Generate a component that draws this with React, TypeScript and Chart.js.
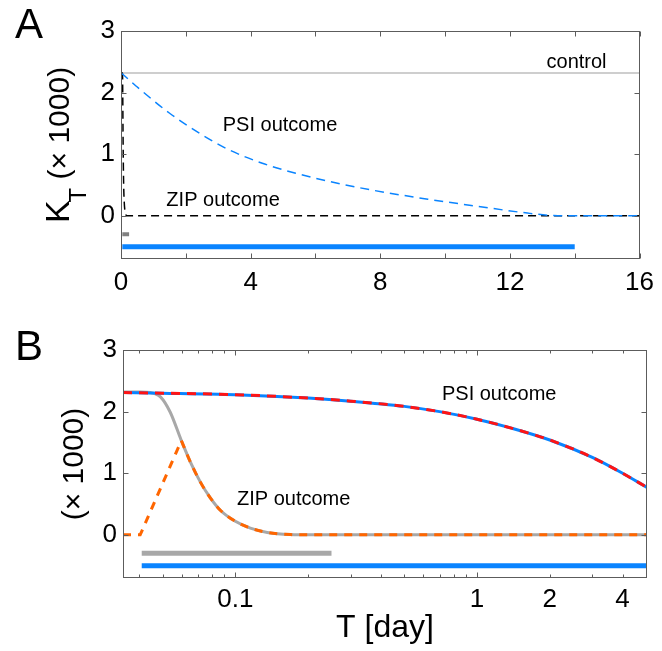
import React, { useEffect, useRef } from 'react';
import { Chart, registerables } from 'chart.js';

Chart.register(...registerables);

const FONT = '"Liberation Sans", Arial, Helvetica, sans-serif';

// ---------- shared ----------
const yMin = -0.7;
const yMax = 3;
const yTicks = [0, 1, 2, 3];
const controlLevel = 2.32;
const grayBarLevel = -0.3;
const blueBarLevel = -0.5;

// ---------- Panel A (linear time) ----------
const aXMin = 0;
const aXMax = 16;
const aXTicks = [0, 2, 4, 6, 8, 10, 12, 14, 16];
const aXLabels = [0, 4, 8, 12, 16];
const aControlT = [0, 16];
const aPsiT = [0, 0.07, 0.48, 1.5, 2.42, 3.34, 4.36, 5.39, 6.51, 7.73, 9.47, 11.0, 12.54, 13.35, 14, 16];
const aPsiK = [2.32, 2.29, 2.1, 1.665, 1.341, 1.07, 0.854, 0.692, 0.55, 0.42, 0.27, 0.155, 0.045, 0.005, 0, 0];
const aZipT = [0, 0.0404, 0.0445, 0.049, 0.0538, 0.0598, 0.0652, 0.0716, 0.0788, 0.0867, 0.1, 0.1154, 0.1356, 0.1689, 0.2043, 16];
const aZipK = [2.32, 2.32, 2.31, 2.24, 1.99, 1.53, 1.18, 0.86, 0.6, 0.4, 0.22, 0.11, 0.04, 0.005, 0, 0];
const aGrayBarT = [0.041, 0.25];
const aBlueBarT = [0.041, 14];

// ---------- Panel B (log time) ----------
const bXMin = 0.0343;
const bXMax = 5.05;
const bXMajor = [0.1, 1];
const bXMinor = [0.04, 0.05, 0.06, 0.07, 0.08, 0.09, 0.2, 0.3, 0.4, 0.5, 0.6, 0.7, 0.8, 0.9, 2, 3, 4];
const bXLabels = [0.1, 1, 2, 4];
const bPsiT = [0.0343, 0.05, 0.1, 0.2, 0.3, 0.5, 0.7, 1, 1.4, 2, 3, 4, 5.05];
const bPsiK = [2.31, 2.3, 2.275, 2.22, 2.17, 2.085, 2.0, 1.877, 1.728, 1.54, 1.257, 1.0, 0.77];
const bZipT = [0.0343, 0.0404, 0.0445, 0.049, 0.0538, 0.0598, 0.0652, 0.0716, 0.0788, 0.0867, 0.1, 0.1154, 0.1356, 0.1689, 0.2043, 5.05];
const bZipK = [2.32, 2.32, 2.31, 2.24, 1.99, 1.53, 1.18, 0.86, 0.6, 0.4, 0.22, 0.11, 0.04, 0.005, 0, 0];
const bPeakIndex = 5;
const bRiseT = [0.0343, 0.0404, 0.0598];
const bRiseK = [0, 0, 1.53];
const bGrayBarT = [0.041, 0.25];
const bBlueBarT = [0.041, 5.05];

const BLUE = 'rgb(10,132,255)';
const RED = 'rgb(255,20,20)';
const ORANGE = 'rgb(255,102,0)';
const GRAY = 'rgb(168,168,168)';

const pts = (xs: number[], ys: number[]) => xs.map((x, i) => ({ x, y: ys[i] }));
const flat = (xs: number[], y: number) => xs.map((x) => ({ x, y }));

type Txt = { text: string; x: number; y: number };
type FrameCfg = {
  xMajor: number[];
  xMinor: number[];
  yTicks: number[];
  notes: Txt[];
  panel: { text: string; x: number; y: number };
  yTitle: 'K' | 'plain';
  yTitleX: number;
  xTitle?: { text: string; y: number };
};

function makeFramePlugin(cfg: FrameCfg) {
  return {
    id: 'frame',
    afterDatasetsDraw(chart: any) {
      const { ctx, chartArea: a } = chart;
      const xs = chart.scales.x;
      const ys = chart.scales.y;
      ctx.save();
      ctx.strokeStyle = '#5c5c5c';
      ctx.lineWidth = 1;
      const L = Math.round(a.left) + 0.5;
      const R = Math.round(a.right) - 0.5;
      const T = Math.round(a.top) + 0.5;
      const B = Math.round(a.bottom) - 0.5;
      ctx.strokeRect(L, T, R - L, B - T);
      ctx.beginPath();
      const xt = (v: number, len: number) => {
        const p = Math.round(xs.getPixelForValue(v)) + 0.5;
        ctx.moveTo(p, B);
        ctx.lineTo(p, B - len);
        ctx.moveTo(p, T);
        ctx.lineTo(p, T + len);
      };
      cfg.xMajor.forEach((v) => xt(v, 5));
      cfg.xMinor.forEach((v) => xt(v, 3));
      cfg.yTicks.forEach((v) => {
        const p = Math.round(ys.getPixelForValue(v)) + 0.5;
        ctx.moveTo(L, p);
        ctx.lineTo(L + 5, p);
        ctx.moveTo(R, p);
        ctx.lineTo(R - 5, p);
      });
      ctx.stroke();
      ctx.restore();
    },
    afterDraw(chart: any) {
      const { ctx, chartArea: a } = chart;
      const xs = chart.scales.x;
      const ys = chart.scales.y;
      ctx.save();
      ctx.fillStyle = '#000';
      ctx.textAlign = 'left';
      ctx.textBaseline = 'alphabetic';
      ctx.font = `20px ${FONT}`;
      cfg.notes.forEach((n) => {
        ctx.fillText(n.text, xs.getPixelForValue(n.x), ys.getPixelForValue(n.y));
      });
      ctx.font = `42px ${FONT}`;
      ctx.fillText(cfg.panel.text, cfg.panel.x, cfg.panel.y);

      // y title
      ctx.save();
      ctx.translate(cfg.yTitleX, (a.top + a.bottom) / 2);
      ctx.rotate(-Math.PI / 2);
      const rest = cfg.yTitle === 'K' ? ' (× 1000)' : '(× 1000)';
      const fK = `34px ${FONT}`;
      const fT = `24px ${FONT}`;
      const fR = `30px ${FONT}`;
      let wK = 0;
      let wT = 0;
      if (cfg.yTitle === 'K') {
        ctx.font = fK;
        wK = ctx.measureText('K').width - 2;
        ctx.font = fT;
        wT = ctx.measureText('T').width;
      }
      ctx.font = fR;
      const wR = ctx.measureText(rest).width;
      const x0 = -(wK + wT + wR) / 2;
      if (cfg.yTitle === 'K') {
        ctx.font = fK;
        ctx.fillText('K', x0, 0);
        ctx.font = fT;
        ctx.fillText('T', x0 + wK, 17);
      }
      ctx.font = fR;
      ctx.fillText(rest, x0 + wK + wT, 0);
      ctx.restore();

      if (cfg.xTitle) {
        ctx.font = `32px ${FONT}`;
        ctx.textAlign = 'center';
        ctx.fillText(cfg.xTitle.text, (a.left + a.right) / 2, cfg.xTitle.y);
      }
      ctx.restore();
    },
  };
}

const lineDs = (data: any[], color: string, width: number, dash: number[], order: number, smooth = true) => ({
  data,
  borderColor: color,
  borderWidth: width,
  borderDash: dash,
  borderCapStyle: 'butt',
  pointRadius: 0,
  fill: false,
  tension: 0,
  cubicInterpolationMode: smooth ? 'monotone' : 'default',
  order,
});

const tickFont = { family: FONT, size: 26 };

export default function App() {
  const refA = useRef<HTMLCanvasElement>(null);
  const refB = useRef<HTMLCanvasElement>(null);

  useEffect(() => {
    const chartA = new Chart(refA.current as HTMLCanvasElement, {
      type: 'line',
      data: {
        datasets: [
          lineDs(pts(aPsiT, aPsiK), BLUE, 1.5, [9, 6], 1),
          lineDs(pts(aZipT, aZipK), '#000', 1.5, [8, 5], 2),
          lineDs(flat(aControlT, controlLevel), 'rgb(190,190,190)', 1.5, [], 3, false),
          lineDs(flat(aGrayBarT, grayBarLevel), 'rgb(128,128,128)', 4, [], 4, false),
          lineDs(flat(aBlueBarT, blueBarLevel), BLUE, 5, [], 5, false),
        ] as any,
      },
      options: {
        animation: false,
        responsive: false,
        events: [],
        layout: { padding: { top: 31, right: 19, left: 0, bottom: 0 } },
        plugins: { legend: { display: false }, tooltip: { enabled: false } },
        scales: {
          x: {
            type: 'linear',
            min: aXMin,
            max: aXMax,
            grid: { display: false, drawTicks: false },
            border: { display: false },
            afterBuildTicks: (s: any) => {
              s.ticks = aXTicks.map((v) => ({ value: v }));
            },
            afterFit: (s: any) => {
              s.height = 41;
            },
            ticks: {
              autoSkip: false,
              maxRotation: 0,
              padding: 8,
              color: '#000',
              font: tickFont,
              callback: (v: any) => (aXLabels.includes(Number(v)) ? String(v) : ''),
            },
          },
          y: {
            type: 'linear',
            min: yMin,
            max: yMax,
            grid: { display: false, drawTicks: false },
            border: { display: false },
            afterBuildTicks: (s: any) => {
              s.ticks = yTicks.map((v) => ({ value: v }));
            },
            afterFit: (s: any) => {
              s.width = 121;
            },
            ticks: {
              autoSkip: false,
              padding: 6,
              color: '#000',
              font: tickFont,
              callback: (v: any) => String(v),
            },
          },
        },
      } as any,
      plugins: [
        makeFramePlugin({
          xMajor: aXTicks,
          xMinor: [],
          yTicks,
          notes: [
            { text: 'control', x: 13.13, y: 2.395 },
            { text: 'PSI outcome', x: 3.14, y: 1.383 },
            { text: 'ZIP outcome', x: 1.4, y: 0.167 },
          ],
          panel: { text: 'A', x: 15, y: 38 },
          yTitle: 'K',
          yTitleX: 69,
        }) as any,
      ],
    });

    const peakTail = pts(bZipT, bZipK).slice(bPeakIndex);
    const chartB = new Chart(refB.current as HTMLCanvasElement, {
      type: 'line',
      data: {
        datasets: [
          lineDs(pts(bPsiT, bPsiK), RED, 3, [9, 7], 1),
          lineDs(pts(bPsiT, bPsiK), BLUE, 3, [], 2),
          lineDs(peakTail, ORANGE, 3, [8, 7], 3),
          lineDs(pts(bRiseT, bRiseK), ORANGE, 3, [8, 7], 4, false),
          lineDs(pts(bZipT, bZipK), GRAY, 3, [], 5),
          lineDs(flat(bGrayBarT, grayBarLevel), GRAY, 5, [], 6, false),
          lineDs(flat(bBlueBarT, blueBarLevel), BLUE, 5, [], 7, false),
        ] as any,
      },
      options: {
        animation: false,
        responsive: false,
        events: [],
        layout: { padding: { top: 50, right: 15, left: 0, bottom: 0 } },
        plugins: { legend: { display: false }, tooltip: { enabled: false } },
        scales: {
          x: {
            type: 'logarithmic',
            min: bXMin,
            max: bXMax,
            grid: { display: false, drawTicks: false },
            border: { display: false },
            afterBuildTicks: (s: any) => {
              s.ticks = [...bXMinor, ...bXMajor].sort((p, q) => p - q).map((v) => ({ value: v }));
            },
            afterFit: (s: any) => {
              s.height = 73;
            },
            ticks: {
              autoSkip: false,
              maxRotation: 0,
              padding: 6,
              color: '#000',
              font: tickFont,
              callback: (v: any) => (bXLabels.includes(Number(v)) ? String(v) : ''),
            },
          },
          y: {
            type: 'linear',
            min: yMin,
            max: yMax,
            grid: { display: false, drawTicks: false },
            border: { display: false },
            afterBuildTicks: (s: any) => {
              s.ticks = yTicks.map((v) => ({ value: v }));
            },
            afterFit: (s: any) => {
              s.width = 123;
            },
            ticks: {
              autoSkip: false,
              padding: 6,
              color: '#000',
              font: tickFont,
              callback: (v: any) => String(v),
            },
          },
        },
      } as any,
      plugins: [
        makeFramePlugin({
          xMajor: bXMajor,
          xMinor: bXMinor,
          yTicks,
          notes: [
            { text: 'PSI outcome', x: 0.716, y: 2.19 },
            { text: 'ZIP outcome', x: 0.1016, y: 0.486 },
          ],
          panel: { text: 'B', x: 15, y: 60 },
          yTitle: 'plain',
          yTitleX: 83,
          xTitle: { text: 'T [day]', y: 337 },
        }) as any,
      ],
    });

    return () => {
      chartA.destroy();
      chartB.destroy();
    };
  }, []);

  return (
    <div style={{ position: 'absolute', left: 0, top: 0, width: 662, height: 651, background: '#fff' }}>
      <canvas ref={refA} width={662} height={300} style={{ position: 'absolute', left: 0, top: 0 }} />
      <canvas ref={refB} width={662} height={351} style={{ position: 'absolute', left: 0, top: 300 }} />
    </div>
  );
}
